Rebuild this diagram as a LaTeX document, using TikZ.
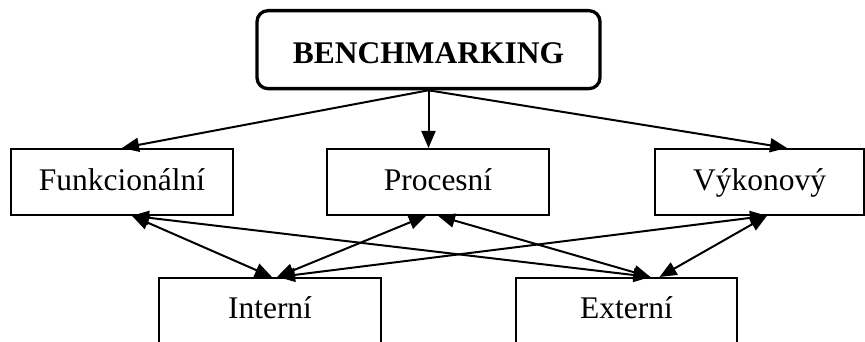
\documentclass[tikz,border=0pt]{standalone}
\usepackage{fontspec}
\setmainfont{Liberation Serif}
\usetikzlibrary{arrows.meta,calc}

\tikzset{
  box/.style={draw, line width=1.8pt, inner sep=0pt, align=center,
    font=\fontsize{31.5}{36}\selectfont},
  topbox/.style={box, line width=3.3pt, rounded corners=11pt,
    font=\fontsize{31.5}{36}\selectfont\bfseries},
  tip/.style={Triangle[length=17pt,width=14pt]},
  link/.style={line width=2pt, -{Triangle[length=17pt,width=14pt]}},
  twoway/.style={line width=2pt,
    {Triangle[length=17pt,width=14pt]}-{Triangle[length=17pt,width=14pt]}},
}

\begin{document}
\begin{tikzpicture}[x=1pt, y=-1pt]
  \useasboundingbox (0,0) rectangle (865,342);
  \clip (0,0) rectangle (865,342);

  % root
  \node[topbox, text width=343pt, text height=53pt, text depth=25pt,
        anchor=north] (bench) at (428.5,9) {BENCHMARKING};

  % middle row
  \node[box, text width=222pt, text height=42pt, text depth=24pt,
        anchor=north] (funk) at (122,148) {Funkcionální};
  \node[box, text width=222pt, text height=42pt, text depth=24pt,
        anchor=north] (proc) at (438,148) {Procesní};
  \node[box, text width=209pt, text height=42pt, text depth=24pt,
        anchor=north] (vyk) at (759.5,148) {Výkonový};

  % bottom row (runs past the lower edge)
  \node[box, text width=222pt, text height=41pt, text depth=60pt,
        anchor=north] (int) at (270,277) {Interní};
  \node[box, text width=221pt, text height=41pt, text depth=60pt,
        anchor=north] (ext) at (626.5,277) {Externí};

  % root to the three kinds
  \draw[link] (bench.south) -- (funk.north);
  \draw[link] (bench.south) -- ($(proc.north)+(-9.5,0)$);
  \draw[link] (bench.south) -- ($(vyk.north)+(27.5,0)$);

  % links between the rows
  \draw[twoway] ($(funk.south)+(10,0)$) -- ($(int.north)+(2,0)$);
  \draw[twoway] ($(funk.south)+(10,0)$) -- ($(ext.north)+(24,0)$);
  \draw[twoway] ($(proc.south)+(-12,0)$) -- ($(int.north)+(7,0)$);
  \draw[twoway] ($(proc.south)+(0,0)$) -- ($(ext.north)+(24,0)$);
  \draw[twoway] ($(vyk.south)+(7.5,0)$) -- ($(int.north)+(8,0)$);
  \draw[twoway] ($(vyk.south)+(7.5,0)$) -- ($(ext.north)+(33,0)$);
\end{tikzpicture}
\end{document}
